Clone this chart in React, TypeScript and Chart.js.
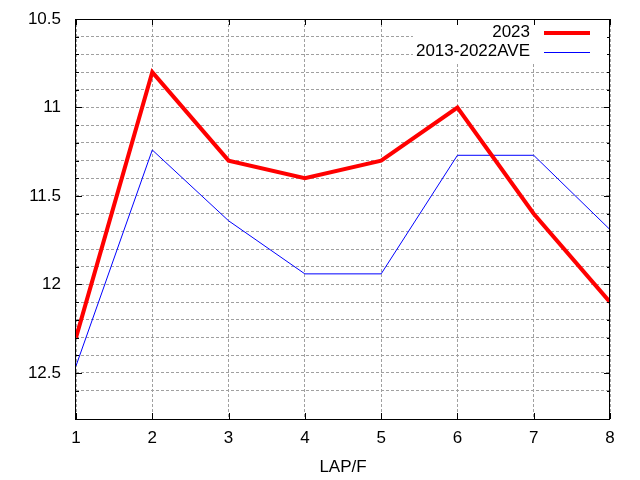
import React, { useEffect, useRef } from 'react';
import { Chart, registerables } from 'chart.js';

Chart.register(...registerables);

const laps = [1, 2, 3, 4, 5, 6, 7, 8];
const series2023 = [12.3, 10.8, 11.3, 11.4, 11.3, 11.0, 11.6, 12.1];
const seriesAve = [12.46, 11.24, 11.64, 11.94, 11.94, 11.27, 11.27, 11.69];
const seriesLabels = ['2023', '2013-2022AVE'];
const seriesColors = ['#ff0000', '#0000ff'];
const seriesWidths = [4, 1];
const yMin = 10.5;
const yMax = 12.76;
const yMajorStep = 0.5;
const yMinorStep = 0.1;
const xTitle = 'LAP/F';

const FONT_FAMILY = '"Liberation Sans", Arial, Helvetica, sans-serif';
const FONT_SIZE = 17;

const isMajor = (v: number) => Math.abs(v / yMajorStep - Math.round(v / yMajorStep)) < 1e-6;
const isMinorGrid = (v: number) => Math.abs(v / yMinorStep - Math.round(v / yMinorStep)) < 1e-6;

const framePlugin = {
  id: 'gnuFrame',
  beforeDatasetsDraw(chart: any) {
    const { ctx, chartArea: a } = chart;
    ctx.save();
    ctx.font = `${FONT_SIZE}px ${FONT_FAMILY}`;
    const textRight = a.right - 80;
    let maxW = 0;
    chart.data.datasets.forEach((d: any) => {
      maxW = Math.max(maxW, ctx.measureText(d.label).width);
    });
    ctx.fillStyle = '#ffffff';
    const left = textRight - maxW - 3;
    ctx.fillRect(left, a.top + 1, a.right - left - 1, 43);
    ctx.restore();
  },
  afterDraw(chart: any) {
    const { ctx, chartArea: a, scales } = chart;
    const ys = scales.y;
    const xs = scales.x;
    ctx.save();
    ctx.strokeStyle = '#000000';
    ctx.lineWidth = 1;
    ctx.beginPath();
    ys.ticks.forEach((t: any) => {
      if (!isMinorGrid(t.value)) return;
      const py = Math.round(ys.getPixelForValue(t.value)) + 0.5;
      const len = isMajor(t.value) ? 6 : 3;
      ctx.moveTo(a.left, py);
      ctx.lineTo(a.left + len, py);
      ctx.moveTo(a.right, py);
      ctx.lineTo(a.right - len, py);
    });
    xs.ticks.forEach((t: any) => {
      const px = Math.round(xs.getPixelForValue(t.value)) + 0.5;
      ctx.moveTo(px, a.bottom);
      ctx.lineTo(px, a.bottom - 6);
      ctx.moveTo(px, a.top);
      ctx.lineTo(px, a.top + 6);
    });
    ctx.stroke();
    ctx.strokeRect(
      Math.round(a.left) - 0.5,
      Math.round(a.top) + 0.5,
      Math.round(a.right) - Math.round(a.left) + 0,
      Math.round(a.bottom) - Math.round(a.top)
    );

    // legend (key)
    ctx.font = `${FONT_SIZE}px ${FONT_FAMILY}`;
    ctx.fillStyle = '#000000';
    ctx.textAlign = 'right';
    ctx.textBaseline = 'middle';
    const textRight = a.right - 80;
    chart.data.datasets.forEach((d: any, i: number) => {
      const cy = a.top + 13.5 + i * 19;
      ctx.fillText(d.label, textRight, cy);
      ctx.beginPath();
      ctx.strokeStyle = d.borderColor;
      ctx.lineWidth = d.borderWidth;
      const ly = d.borderWidth % 2 === 1 ? Math.round(cy) + 0.5 : Math.round(cy);
      ctx.moveTo(textRight + 14, ly);
      ctx.lineTo(textRight + 60, ly);
      ctx.stroke();
    });
    ctx.restore();
  },
};

export default function App() {
  const ref = useRef<HTMLCanvasElement>(null);

  useEffect(() => {
    if (!ref.current) return;
    const seriesData = [series2023, seriesAve];
    const chart = new Chart(ref.current, {
      type: 'line',
      data: {
        datasets: seriesData.map((vals, i) => ({
          label: seriesLabels[i],
          data: laps.map((lap, j) => ({ x: lap, y: vals[j] })),
          borderColor: seriesColors[i],
          backgroundColor: seriesColors[i],
          borderWidth: seriesWidths[i],
          pointRadius: 0,
          pointHoverRadius: 0,
          tension: 0,
          fill: false,
        })),
      },
      options: {
        responsive: false,
        animation: false,
        devicePixelRatio: 1,
        layout: { padding: { top: 19, right: 30, left: 0, bottom: 0 } },
        plugins: {
          legend: { display: false },
          tooltip: { enabled: false },
          title: { display: false },
        },
        scales: {
          x: {
            type: 'linear',
            min: laps[0],
            max: laps[laps.length - 1],
            ticks: {
              stepSize: 1,
              color: '#000000',
              padding: 9,
              font: { family: FONT_FAMILY, size: FONT_SIZE },
              callback: (v: any) => String(v),
            },
            grid: {
              color: '#a0a0a0',
              lineWidth: 1,
              drawTicks: false,
            },
            border: { display: false, dash: [3, 2] },
            title: {
              display: true,
              text: xTitle,
              color: '#000000',
              font: { family: FONT_FAMILY, size: FONT_SIZE },
              padding: { top: 0, bottom: 2 },
            },
            afterFit: (scale: any) => {
              scale.height = 61;
              scale.paddingLeft = 0;
              scale.paddingRight = 0;
            },
          },
          y: {
            type: 'linear',
            reverse: true,
            min: yMin,
            max: yMax,
            ticks: {
              stepSize: yMinorStep,
              maxTicksLimit: 100,
              autoSkip: false,
              color: '#000000',
              padding: 15,
              font: { family: FONT_FAMILY, size: FONT_SIZE },
              callback: (v: any) => (isMajor(Number(v)) ? String(Number(v)) : ''),
            },
            grid: {
              color: (c: any) => (isMinorGrid(c.tick.value) ? '#a0a0a0' : 'rgba(0,0,0,0)'),
              lineWidth: 1,
              drawTicks: false,
            },
            border: { display: false, dash: [3, 2] },
            afterFit: (scale: any) => {
              scale.width = 76;
              scale.paddingTop = 0;
              scale.paddingBottom = 0;
            },
          },
        },
      },
      plugins: [framePlugin],
    });
    return () => chart.destroy();
  }, []);

  return (
    <div style={{ position: 'fixed', left: 0, top: 0, width: 640, height: 480, background: '#ffffff' }}>
      <canvas ref={ref} width={640} height={480} style={{ display: 'block', width: 640, height: 480 }} />
    </div>
  );
}
